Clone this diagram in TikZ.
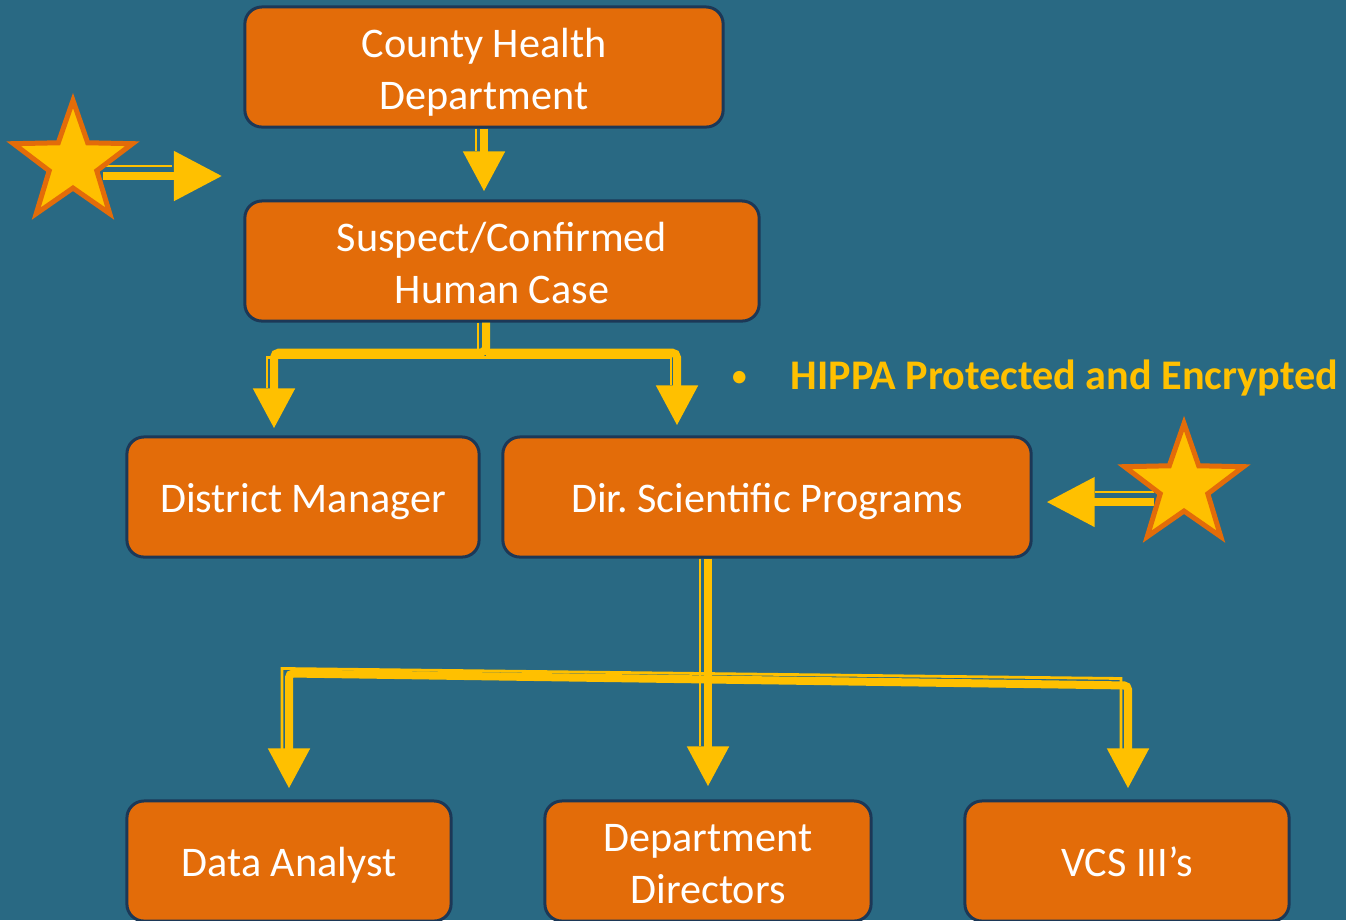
\documentclass[tikz,border=0pt]{standalone}
\usepackage{fontspec}
\setmainfont{Carlito}
\usepackage{xcolor}
\usetikzlibrary{positioning,shapes.geometric,arrows.meta,calc}
\definecolor{slate}{HTML}{296983}
\definecolor{pumpkin}{HTML}{E36C09}
\definecolor{amber}{HTML}{FFC000}
\definecolor{navyrim}{HTML}{1C3857}
\frenchspacing

\begin{document}
\begin{tikzpicture}[x=0.01cm, y=-0.01cm, >={Triangle[length=0.4cm,width=0.4cm]},
  unit/.style={draw=navyrim, line width=0.3mm, fill=pumpkin, rounded corners=0.17cm, text=white, align=center, minimum height=1.2cm, inner sep=0pt, font=\fontsize{12}{14.8}\selectfont,
    execute at begin node={\rule{0pt}{11.6pt}}, execute at end node={\rule[-3pt]{0pt}{3pt}}},
  pair/.style={unit, execute at begin node={\rule{0pt}{27.3pt}}},
  fatline/.style={draw=amber, line width=0.8mm},
  slimline/.style={draw=amber, line width=0.28mm},
  sidetip/.style={-{Triangle[length=0.48cm,width=0.48cm]}},
  badge/.style={star, star points=5, star point ratio=2.5, fill=amber, draw=pumpkin, line width=0.5mm, minimum size=1.25cm, inner sep=0pt}]
  % canvas in slide pixels
  \useasboundingbox (0,0) rectangle (1346,920);
  \clip (0,0) rectangle (1346,920);
  \fill[slate] (0,0) rectangle (1346,920);

  \node (chd) at (484,67) [pair, minimum width=4.78cm] {County Health\\Department};
  \node (scc) at (502,261) [pair, minimum width=5.14cm] {Suspect/Confirmed\\Human Case};
  \node (dm) at (303,497) [unit, minimum width=3.52cm] {District Manager};
  \node (dsp) at (767,497) [unit, minimum width=5.28cm] {Dir. Scientific Programs};
  \node (da) at (289,861) [unit, minimum width=3.24cm] {Data Analyst};
  \node (dd) at (708,861) [pair, minimum width=3.26cm] {Department\\Directors};
  \node (vcs) at (1127,861) [unit, minimum width=3.24cm] {VCS III’s};

  \node (hippa) at (730,389) [anchor=base west, inner sep=0pt, text=amber, font=\fontsize{12}{14.8}\selectfont\bfseries] {\makebox[0.6cm][l]{\mdseries\fontsize{10}{10}\selectfont\raisebox{0.5pt}{\textbullet}}HIPPA Protected and Encrypted};

  % county -> case
  \draw[fatline, ->] (chd.south) -- ($(chd.south |- scc.north)+(0,-8)$);
  \draw[slimline] ($(chd.south)+(-8,0)$) -- ($(chd.south |- scc.north)+(-8,-48)$);

  % case -> manager / director
  \coordinate (forkA) at ($(scc.south)+(-16,30)$);
  \draw[fatline, ->, rounded corners=0.05cm] ($(scc.south)+(-16,0)$) -- (forkA) -| ($(dm.north)+(-29,-7)$);
  \draw[fatline, ->, rounded corners=0.05cm] (forkA) -| ($(dsp.north)+(-90,-10)$);
  \draw[slimline] ($(scc.south)+(-24,0)$) -- ++(0,27);
  \draw[slimline] ($(dm.north)+(-36,-47)$) |- ($(dsp.north)+(-96,-78)$) -- ($(dsp.north)+(-96,-50)$);

  % director -> three teams
  \draw[fatline, <->, rounded corners=0.04cm] ($(da.north)+(0,-11)$) -- ($(da.north)+(0,-126)$) -- ($(vcs.north)+(1,-114)$) -- ($(vcs.north)+(1,-11)$);
  \draw[fatline, ->] (dsp.south -| dd.north) -- ($(dd.north)+(0,-13)$);
  \draw[slimline] ($(da.north)+(-7,-50)$) -- ($(da.north)+(-7,-131)$) -- ($(vcs.north)+(-6,-121)$) -- ($(vcs.north)+(-6,-50)$);
  \draw[slimline] ($(dsp.south -| dd.north)+(-8,0)$) -- ($(dd.north)+(-8,-53)$);

  % stars with their pointers
  \coordinate (starL) at (73,163);
  \coordinate (aimL) at (222,176);
  \draw[fatline, sidetip] ($(starL)+(30,13)$) -- (aimL);
  \draw[slimline] ($(starL)+(30,3)$) -- ($(aimL)+(-50,-10)$);
  \node (badgeL) at (starL) [badge] {};

  \coordinate (starR) at (1184,486);
  \draw[fatline, sidetip] ($(starR)+(-30,16)$) -- ($(dsp.east)+(14,5)$);
  \draw[slimline] ($(starR)+(-30,6)$) -- ($(dsp.east)+(62,-5)$);
  \node (badgeR) at (starR) [badge] {};
\end{tikzpicture}
\end{document}
